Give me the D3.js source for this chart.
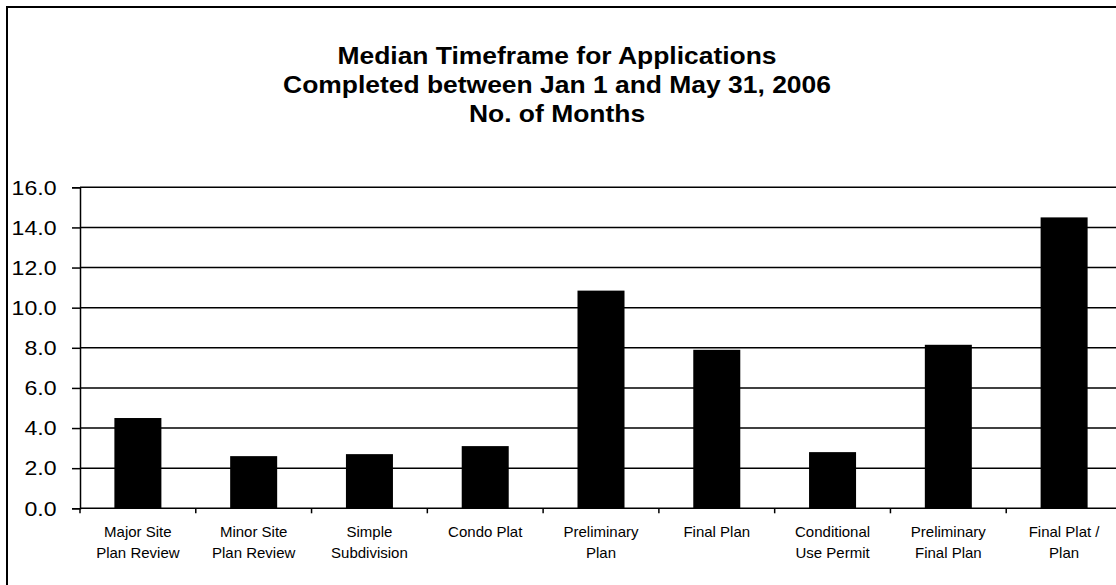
<!DOCTYPE html>
<html>
<head>
<meta charset="utf-8">
<script src="https://cdn.jsdelivr.net/npm/d3@7"></script>
<style>
  html, body { margin: 0; padding: 0; background: #fff; }
  svg { display: block; }
  text { font-family: "Liberation Sans", Arial, sans-serif; fill: #000; }
</style>
</head>
<body>
<svg id="chart" width="1116" height="585"></svg>
<script>
// Application types (two-line labels)
const categories = [
  ["Major Site", "Plan Review"],
  ["Minor Site", "Plan Review"],
  ["Simple", "Subdivision"],
  ["Condo Plat"],
  ["Preliminary", "Plan"],
  ["Final Plan"],
  ["Conditional", "Use Permit"],
  ["Preliminary", "Final Plan"],
  ["Final Plat /", "Plan"]
];
// Median months to completion
const months = [4.5, 2.6, 2.7, 3.1, 10.85, 7.9, 2.8, 8.15, 14.5];
const yTicks = [0, 2, 4, 6, 8, 10, 12, 14, 16];
const titleLines = [
  "Median Timeframe for Applications",
  "Completed between Jan 1 and May 31, 2006",
  "No. of Months"
];

const svg = d3.select("#chart");
const plot = { left: 80, right: 1122, top: 187.3, bottom: 508.3 };

// places text at (x, y) with a horizontal stretch factor
function stretchedText(parent, x, y, sx, str, anchor) {
  return parent.append("g")
    .attr("transform", `translate(${x},${y}) scale(${sx},1)`)
    .append("text")
    .attr("text-anchor", anchor)
    .text(str);
}

// outer frame
svg.append("rect")
  .attr("x", 7).attr("y", 7)
  .attr("width", 1130).attr("height", 600)
  .attr("fill", "none").attr("stroke", "#000").attr("stroke-width", 2);

// title
const gTitle = svg.append("g").attr("font-size", 23).attr("font-weight", "bold");
titleLines.forEach((t, i) => {
  stretchedText(gTitle, 557, 64 + i * 29, 1.15, t, "middle");
});

const x = d3.scaleBand()
  .domain(d3.range(categories.length))
  .range([plot.left, plot.right])
  .paddingInner(0.594)
  .paddingOuter(0.297);

const y = d3.scaleLinear()
  .domain([0, 16])
  .range([plot.bottom, plot.top]);

// horizontal gridlines
svg.append("g")
  .selectAll("line")
  .data(yTicks.slice(1)).join("line")
  .attr("x1", plot.left).attr("x2", plot.right)
  .attr("y1", d => y(d)).attr("y2", d => y(d))
  .attr("stroke", "#000").attr("stroke-width", 1.5);

// bars
svg.append("g")
  .selectAll("rect")
  .data(months).join("rect")
  .attr("x", (d, i) => x(i))
  .attr("width", x.bandwidth())
  .attr("y", d => y(d))
  .attr("height", d => y(0) - y(d))
  .attr("fill", "#000");

// y axis
const yAxis = d3.axisLeft(y)
  .tickValues(yTicks)
  .tickFormat(d3.format(".1f"))
  .tickSize(8)
  .tickPadding(14);
const gy = svg.append("g")
  .attr("transform", `translate(${plot.left},0)`)
  .call(yAxis);
gy.select(".domain").attr("stroke", "#000").attr("stroke-width", 1.5);
gy.selectAll(".tick line").attr("stroke", "#000").attr("stroke-width", 1.5);
gy.selectAll(".tick text")
  .attr("font-size", 21)
  .attr("font-family", "Liberation Sans, Arial, sans-serif")
  .attr("fill", "#000")
  .attr("x", 0)
  .attr("transform", "translate(-23.5,0) scale(1.1,1)");

// x axis: baseline with ticks at category boundaries
const step = x.step();
const bounds = d3.range(categories.length + 1).map(i => plot.left + i * step);
const gx = svg.append("g");
gx.append("line")
  .attr("x1", plot.left).attr("x2", plot.right)
  .attr("y1", y(0)).attr("y2", y(0))
  .attr("stroke", "#000").attr("stroke-width", 1.5);
gx.selectAll("line.tk")
  .data(bounds).join("line")
  .attr("class", "tk")
  .attr("x1", d => d).attr("x2", d => d)
  .attr("y1", y(0)).attr("y2", y(0) + 5)
  .attr("stroke", "#000").attr("stroke-width", 1.5);

// category labels
const lab = gx.selectAll("text.cat")
  .data(categories).join("text")
  .attr("class", "cat")
  .attr("text-anchor", "middle")
  .attr("font-size", 15)
  .attr("x", (d, i) => x(i) + x.bandwidth() / 2)
  .attr("y", 537);
lab.selectAll("tspan")
  .data(d => d).join("tspan")
  .attr("x", function () { return d3.select(this.parentNode).attr("x"); })
  .attr("dy", (d, i) => i === 0 ? 0 : 20.5)
  .text(d => d);
</script>
</body>
</html>
